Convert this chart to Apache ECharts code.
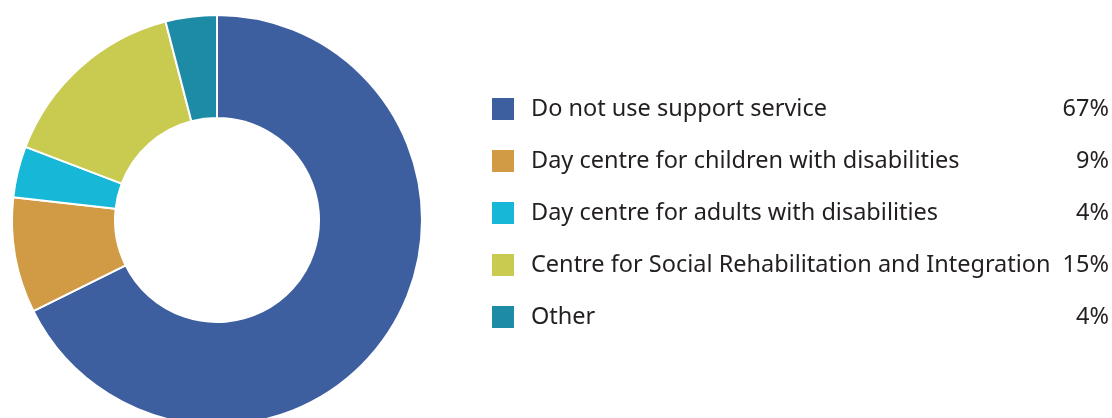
<!DOCTYPE html>
<html>
<head>
<meta charset="utf-8">
<style>
  html, body { margin: 0; padding: 0; background: #ffffff; }
  #chart { width: 1112px; height: 418px; }
</style>
<script src="https://cdn.jsdelivr.net/npm/echarts@6/dist/echarts.min.js"></script>
</head>
<body>
<div id="chart"></div>
<script>
// Use of support services
const categories = [
  'Do not use support service',
  'Day centre for children with disabilities',
  'Day centre for adults with disabilities',
  'Centre for Social Rehabilitation and Integration',
  'Other'
];
const shares = [67, 9, 4, 15, 4];
const colors = ['#3E5F9F', '#D19A45', '#17B7D8', '#C9CA50', '#1D8AA6'];

const chart = echarts.init(document.getElementById('chart'), null, { renderer: 'canvas' });

const shareByName = {};
categories.forEach((c, i) => { shareByName[c] = shares[i]; });

const font = '"Noto Sans", sans-serif';

chart.setOption({
  animation: false,
  color: colors,
  legend: {
    orient: 'vertical',
    left: 490,
    top: 96,
    padding: 0,
    itemWidth: 24,
    itemHeight: 24,
    itemGap: 26,
    icon: 'rect',
    selectedMode: false,
    data: categories,
    formatter: name => '{n|' + name + '}{p|' + shareByName[name] + '%}',
    textStyle: {
      fontFamily: font,
      fontSize: 23.5,
      lineHeight: 22,
      color: '#231F20',
      rich: {
        n: { width: 514, lineHeight: 22, padding: [0, 0, 0, 11], fontSize: 23.5, fontFamily: font, color: '#231F20' },
        p: { width: 64, lineHeight: 22, align: 'right', fontSize: 23.5, fontFamily: font, color: '#231F20' }
      }
    }
  },
  series: [{
    type: 'pie',
    center: [217, 220],
    radius: [102, 205],
    startAngle: 90,
    clockwise: true,
    silent: true,
    label: { show: false },
    labelLine: { show: false },
    itemStyle: { borderColor: '#ffffff', borderWidth: 2 },
    data: categories.map((c, i) => ({ name: c, value: shares[i] }))
  }]
});
</script>
</body>
</html>
